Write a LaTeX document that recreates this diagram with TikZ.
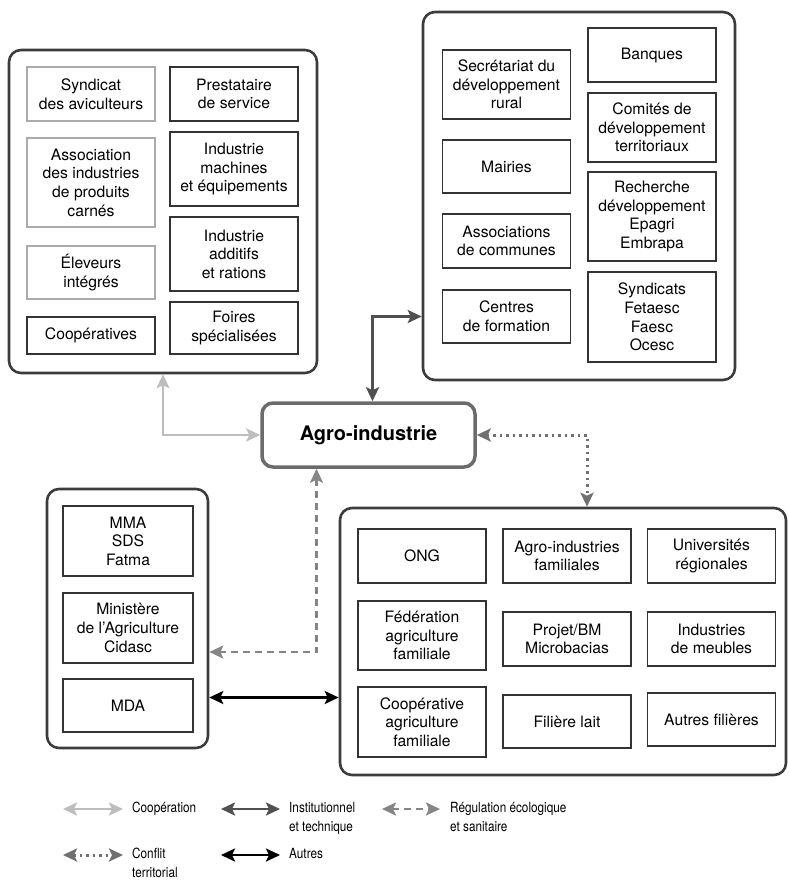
\documentclass[tikz,border=0pt]{standalone}
\usepackage{fontspec}
\setmainfont{TeX Gyre Heros}
\newfontfamily\legfont[FakeStretch=0.84]{TeX Gyre Heros}
\usetikzlibrary{arrows.meta}
\definecolor{grpgray}{HTML}{3C3C3C}
\definecolor{boxdark}{HTML}{333333}
\definecolor{boxlight}{HTML}{ABABAB}
\definecolor{agrogray}{HTML}{6B6B6B}
\definecolor{coopgray}{HTML}{BDBDBD}
\definecolor{instgray}{HTML}{505050}
\definecolor{reggray}{HTML}{858585}
\definecolor{confgray}{HTML}{707070}
\begin{document}
\begin{tikzpicture}[x=1pt,y=-1pt,
  grp/.style={draw=grpgray, line width=2.6pt, rounded corners=12pt},
  actor/.style={draw=boxdark, line width=1.3pt, align=center, inner sep=2pt,
    minimum width=128pt, font=\fontsize{15.7}{18.6}\selectfont},
  dim/.style={draw=boxlight},
  rel/.style={line width=2.5pt, {Stealth[length=14pt,width=13pt,inset=3pt]}-{Stealth[length=14pt,width=13pt,inset=3pt]}},
  coopa/.style={rel, draw=coopgray},
  insta/.style={rel, draw=instgray},
  rega/.style={rel, draw=reggray, dash pattern=on 7pt off 5pt},
  confa/.style={rel, draw=confgray, line width=3pt, dash pattern=on 2.5pt off 4pt},
  autra/.style={rel, draw=black},
  leg/.style={anchor=north west, inner sep=0pt, align=left, font=\legfont\fontsize{14}{19}\selectfont}]
\useasboundingbox (0,0) rectangle (788,880);

\node[grp, minimum width=308pt, minimum height=323pt] (tl) at (163,211.5) {};
\node[grp, minimum width=312pt, minimum height=368pt] (tr) at (579,196) {};
\node[grp, minimum width=161pt, minimum height=259pt] (bl) at (127.5,618.5) {};
\node[grp, minimum width=446pt, minimum height=267pt] (br) at (563,641.5) {};

\node[actor, dim, minimum height=54pt] (syn) at (91,94) {Syndicat\\des aviculteurs};
\node[actor, dim, minimum height=89pt] (asso) at (91,182.5) {Association\\des industries\\de produits\\carnés};
\node[actor, dim, minimum height=53pt] (ele) at (91,272.5) {Éleveurs\\intégrés};
\node[actor, minimum height=37pt] (coop) at (91,335.5) {Coopératives};
\node[actor, minimum height=54pt] (pres) at (234,94) {Prestataire\\de service};
\node[actor, minimum height=74pt] (mach) at (234,169) {Industrie\\machines\\et équipements};
\node[actor, minimum height=74pt] (addi) at (234,254) {Industrie\\additifs\\et rations};
\node[actor, minimum height=52pt] (foir) at (234,328) {Foires\\spécialisées};

\node[actor, minimum height=69pt] (sec) at (506.5,84.5) {Secrétariat du\\développement\\rural};
\node[actor, minimum height=53pt] (mai) at (506.5,166.5) {Mairies};
\node[actor, minimum height=54pt] (asc) at (506.5,241) {Associations\\de communes};
\node[actor, minimum height=53pt] (cen) at (506.5,316.5) {Centres\\de formation};
\node[actor, minimum height=54pt] (ban) at (652,55) {Banques};
\node[actor, minimum height=69pt] (com) at (652,127.5) {Comités de\\développement\\territoriaux};
\node[actor, minimum height=89pt] (rec) at (652,216.5) {Recherche\\développement\\Epagri\\Embrapa};
\node[actor, minimum height=90pt] (syd) at (652,317) {Syndicats\\Fetaesc\\Faesc\\Ocesc};

\node[actor, minimum width=130pt, minimum height=70pt] (mma) at (128,541) {MMA\\SDS\\Fatma};
\node[actor, minimum width=130pt, minimum height=70pt] (min) at (128,628) {Ministère\\de l’Agriculture\\Cidasc};
\node[actor, minimum width=130pt, minimum height=53pt] (mda) at (128,705.5) {MDA};

\node[actor, minimum height=54pt] (ong) at (422,556) {ONG};
\node[actor, minimum height=54pt] (agf) at (567,556) {Agro-industries\\familiales};
\node[actor, minimum height=54pt] (uni) at (711.5,556) {Universités\\régionales};
\node[actor, minimum height=69pt] (fed) at (422,635.5) {Fédération\\agriculture\\familiale};
\node[actor, minimum height=54pt] (pro) at (567,639) {Projet/BM\\Microbacias};
\node[actor, minimum height=54pt] (meu) at (711.5,639) {Industries\\de meubles};
\node[actor, minimum height=70pt] (cpa) at (422,722) {Coopérative\\agriculture\\familiale};
\node[actor, minimum height=53pt] (fil) at (567,721.5) {Filière lait};
\node[actor, minimum height=53pt] (aut) at (711.5,719.5) {Autres filières};

\node[draw=agrogray, line width=3.5pt, rounded corners=11pt, minimum width=213pt,
  minimum height=64pt, font=\fontsize{20}{24}\selectfont\bfseries] (agro) at (368.5,435) {Agro-industrie};

\draw[coopa] (tl.south) |- (agro.west);
\draw[insta] ([xshift=4pt]agro.north) |- (tr.west |- cen);
\draw[confa] (agro.east) -| ([xshift=24pt]br.north);
\draw[rega] ([xshift=-52pt]agro.south) |- ([yshift=-24pt]bl.east |- min);
\draw[autra] ([yshift=8pt]bl.east |- mda) -- ([yshift=8pt]br.west |- mda);

\coordinate (l1a) at (63,809);  \coordinate (l1b) at (123,809);
\coordinate (l2a) at (221,809); \coordinate (l2b) at (280,809);
\coordinate (l3a) at (382,809); \coordinate (l3b) at (440,809);
\coordinate (l4a) at (63,855);  \coordinate (l4b) at (123,855);
\coordinate (l5a) at (221,855); \coordinate (l5b) at (280,855);
\draw[coopa] (l1a) -- (l1b);
\draw[insta] (l2a) -- (l2b);
\draw[rega] (l3a) -- (l3b);
\draw[confa] (l4a) -- (l4b);
\draw[autra] (l5a) -- (l5b);
\node[leg] (t1) at (132,802) {Coopération};
\node[leg] (t2) at (289,802) {Institutionnel\\et technique};
\node[leg] (t3) at (450,802) {Régulation écologique\\et sanitaire};
\node[leg] (t4) at (132,848) {Conflit\\territorial};
\node[leg] (t5) at (289,848) {Autres};
\end{tikzpicture}
\end{document}
